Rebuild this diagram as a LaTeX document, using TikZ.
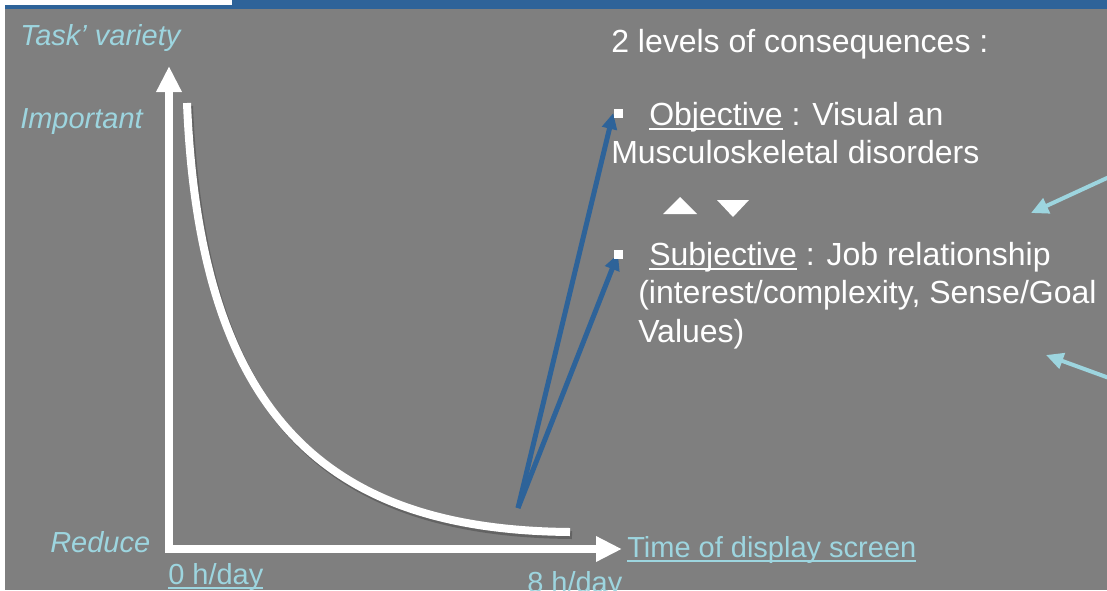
\documentclass[tikz,border=0pt]{standalone}
\usepackage{fontspec}
\setmainfont{Liberation Sans}
\usetikzlibrary{arrows.meta}
\definecolor{bg}{HTML}{7F7F7F}
\definecolor{band}{HTML}{2E6399}
\definecolor{lcyan}{HTML}{9DD5DF}
\definecolor{arrblue}{HTML}{2E6399}
\newsavebox\ulbox
\newcommand\myul[1]{\sbox\ulbox{#1}\rlap{\rule[-0.16em]{\wd\ulbox}{0.06em}}\usebox\ulbox}
\tikzset{
  lab/.style={anchor=base west, inner sep=0pt, text=lcyan, font=\fontsize{21.75}{26}\selectfont\itshape},
  labup/.style={anchor=base west, inner sep=0pt, text=lcyan, font=\fontsize{21.75}{26}\selectfont},
  body/.style={anchor=base west, inner sep=0pt, text=white, font=\fontsize{24}{29}\selectfont},
  bulletsq/.style={fill=white, draw=none, minimum size=6.75pt, inner sep=0pt},
  axisline/.style={white, line width=6pt, -{Triangle[width=18pt,length=19.5pt]}},
  axisshadow/.style={black, opacity=0.22, line width=6pt, -{Triangle[width=18pt,length=19.5pt]}},
  curveline/.style={white, line width=6pt},
  barrow/.style={arrblue, line width=3.75pt, -{Triangle[width=11pt,length=12pt]}},
  carrow/.style={lcyan, line width=3pt, -{Triangle[width=12pt,length=13pt]}},
}
\begin{document}
\begin{tikzpicture}[x=0.75pt, y=-0.75pt]
\useasboundingbox (0,0) rectangle (1107,590);
\clip (0,0) rectangle (1107,590);
% background
\fill[white] (0,0) rectangle (1107,590);
\fill[bg] (5,9) rectangle (1107,590);
\fill[band] (232,0) rectangle (1107,9);
\fill[band] (5,5) rectangle (232,9);

% axis labels
\node[lab] (tv) at (20,45) {Task’ variety};
\node[lab] (imp) at (20,128) {Important};
\node[lab] (red) at (50,552) {Reduce};
\node[labup] (h0) at (168,584) {\myul{0 h/day}};
\node[labup] (h8) at (527,592) {8 h/day};
\node[labup] (tds) at (627,557) {\myul{Time of display screen}};

% axes
\coordinate (Ybot) at (169,553);
\coordinate (Ytop) at (169,66);
\coordinate (Xbeg) at (165,549);
\coordinate (Xend) at (622,549);
\begin{scope}[shift={(2,3)}]
\draw[axisshadow] (Ybot) -- (Ytop);
\draw[axisshadow] (Xbeg) -- (Xend);
\draw[black, opacity=0.22, line width=6pt] (187,103) .. controls (200,420) and (330,530) .. (570,532);
\end{scope}
\draw[axisline] (Ybot) -- (Ytop);
\draw[axisline] (Xbeg) -- (Xend);

% curve
\coordinate (C0) at (187,103);
\coordinate (C1) at (570,532);
\draw[curveline] (C0) .. controls (200,420) and (330,530) .. (C1);

% right text
\node[body] (title) at (611,52) {2 levels of consequences :};
\node[body] (obj) at (649,125) {\myul{Objective} : Visual an};
\node[body] (msd) at (611,163) {Musculoskeletal disorders};
\node[body] (subj) at (649,265) {\myul{Subjective} : Job relationship};
\node[body] (int) at (638,303) {(interest/complexity, Sense/Goal};
\node[body] (val) at (638,342) {Values)};

% triangles
\fill[white] (663,214) -- (680,197) -- (697,214) -- cycle;
\fill[white] (717,200) -- (749,200) -- (733,217) -- cycle;

% blue arrows
\coordinate (S) at (518,508);
\node[bulletsq] (b1) at (618,113) {};
\node[bulletsq] (b2) at (618,254) {};
\draw[barrow] (S) -- (b1.west);
\draw[barrow] (S) -- (b2.center);
\node[bulletsq] at (b1.center) {};
\node[bulletsq] at (b2.center) {};

% light cyan arrows
\coordinate (R1) at (1120,172);
\coordinate (T1) at (1031,213);
\coordinate (R2) at (1120,382);
\coordinate (T2) at (1046,355);
\draw[carrow] (R1) -- (T1);
\draw[carrow] (R2) -- (T2);
\end{tikzpicture}
\end{document}
